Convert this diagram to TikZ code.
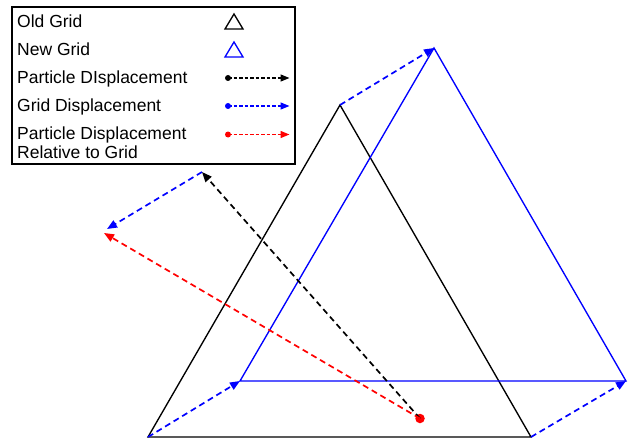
\documentclass[tikz,border=0pt]{standalone}
\usepackage{fontspec}
\setmainfont{Liberation Sans}
\usetikzlibrary{arrows.meta}
\definecolor{gblue}{RGB}{0,0,255}
\definecolor{gred}{RGB}{255,0,0}
\begin{document}
\begin{tikzpicture}[x=1pt,y=-1pt,
  grid/.style={line width=1.35pt,line join=miter},
  disp/.style={line width=1.7pt,dash pattern=on 6pt off 4pt,-{Triangle[length=10pt,width=8pt]}},
  legdisp/.style={line width=1.4pt,dash pattern=on 3.5pt off 2pt,-{Triangle[length=9pt,width=7pt]}},
  legtext/.style={anchor=base west,inner sep=0pt,font=\fontsize{17.5}{20}\selectfont},
  dotsty/.style={circle,inner sep=0pt,minimum size=6pt}
]
\useasboundingbox (0,0) rectangle (628,441);
% coordinates
\coordinate (o1) at (148,437);
\coordinate (o2) at (531,437);
\coordinate (o3) at (340,105);
\coordinate (n1) at (240,381);
\coordinate (n2) at (626,381);
\coordinate (n3) at (434,48);
\coordinate (pe) at (202,172);
\coordinate (re) at (104,233);
\coordinate (ge) at (107,229);
% grids
\draw[grid,black] (o1) -- (o2) -- (o3) -- cycle;
\draw[grid,gblue] (n1) -- (n2) -- (n3) -- cycle;
% grid displacements
\draw[disp,gblue] (o1) -- (n1);
\draw[disp,gblue] (o2) -- (n2);
\draw[disp,gblue] (o3) -- (n3);
% particle
\node[circle,fill=gred,inner sep=0pt,minimum size=9.5pt] (p) at (420,418.5) {};
\draw[disp,black] (p.center) -- (pe);
\draw[disp,gred] (p.center) -- (re);
\draw[disp,gblue] (pe) -- (ge);
% legend
\draw[line width=1.3pt,fill=white] (12,7) rectangle (295,164);
\node[legtext] (l1) at (17,28) {Old Grid};
\node[legtext] (l2) at (17,56) {New Grid};
\node[legtext] (l3) at (17,83.5) {Particle DIsplacement};
\node[legtext] (l4) at (17,111.5) {Grid Displacement};
\node[legtext] (l5) at (17,139) {Particle Displacement};
\node[legtext] (l6) at (17,158.5) {Relative to Grid};
\draw[line width=1.3pt,black] (225,29) -- (243,29) -- (234,14) -- cycle;
\draw[line width=1.3pt,gblue] (225,57) -- (243,57) -- (234,42) -- cycle;
\node[dotsty,fill=black] (d1) at (228,78) {};
\coordinate (t1) at (289.5,78);
\draw[legdisp,black] (d1.center) -- (t1);
\node[dotsty,fill=gblue] (d2) at (228,106) {};
\coordinate (t2) at (289.5,106);
\draw[legdisp,gblue] (d2.center) -- (t2);
\node[dotsty,fill=gred] (d3) at (228,134.5) {};
\coordinate (t3) at (289.5,134.5);
\draw[legdisp,gred] (d3.center) -- (t3);
\end{tikzpicture}
\end{document}
